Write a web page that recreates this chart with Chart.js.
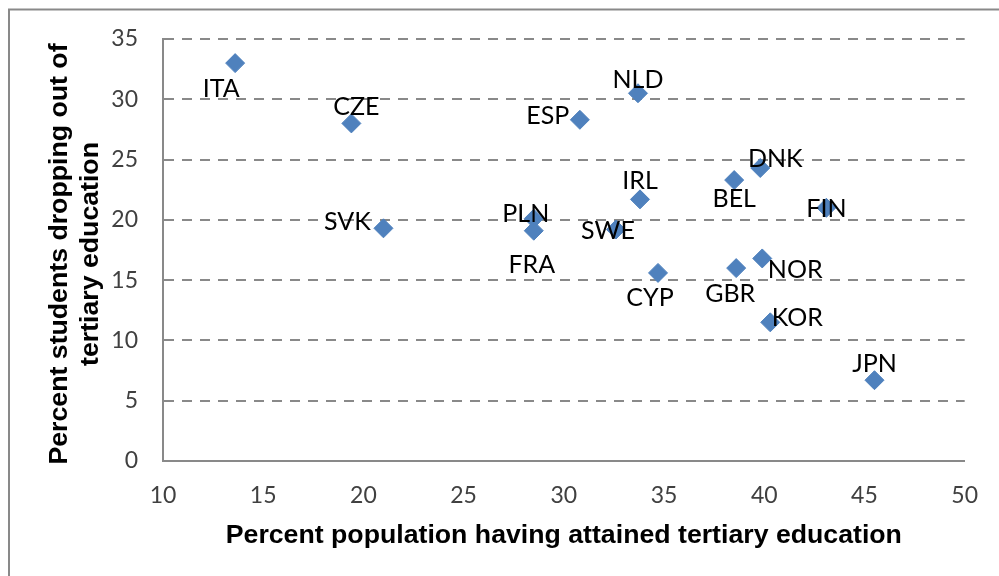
<!DOCTYPE html>
<html>
<head>
<meta charset="utf-8">
<title>Tertiary attainment and dropout</title>
<script src="https://cdn.jsdelivr.net/npm/chart.js@4.4.1/dist/chart.umd.min.js"></script>
<style>
  html, body { margin: 0; padding: 0; background: #fff; overflow: hidden; }
  #wrap { position: relative; width: 999px; height: 576px; }
</style>
</head>
<body>
<div id="wrap"><canvas id="scatter" width="999" height="576"></canvas></div>
<script>
var countries = ['ITA', 'CZE', 'SVK', 'PLN', 'FRA', 'ESP', 'SWE', 'NLD', 'IRL', 'CYP', 'BEL', 'GBR', 'DNK', 'NOR', 'KOR', 'FIN', 'JPN'];
var attained  = [13.6, 19.4, 21.0, 28.5, 28.5, 30.8, 32.6, 33.7, 33.8, 34.7, 38.5, 38.6, 39.8, 39.9, 40.3, 43.1, 45.5];
var dropout   = [33.0, 28.0, 19.3, 20.1, 19.1, 28.3, 19.2, 30.5, 21.7, 15.6, 23.3, 16.0, 24.3, 16.8, 11.5, 21.0, 6.7];
var xTicks = [10, 15, 20, 25, 30, 35, 40, 45, 50];
var yTicks = [0, 5, 10, 15, 20, 25, 30, 35];
var xTitle = 'Percent population having attained tertiary education';
var yTitle = ['Percent students dropping out of', 'tertiary education'];

// where each country code sits relative to its marker, in px
var labelOffset = {
  ITA: [-14, 25], CZE: [5, -17], SVK: [-36, -7], PLN: [-8, -6], FRA: [-2, 33],
  ESP: [-32, -5], SWE: [-8, 0], NLD: [0, -14], IRL: [0, -19], CYP: [-8, 24],
  BEL: [0, 18], GBR: [-6, 25], DNK: [15, -10], NOR: [33, 11], KOR: [27, -5],
  FIN: [0, 0], JPN: [0, -17]
};

var points = countries.map(function (c, i) {
  return { x: attained[i], y: dropout[i] };
});

var lineGrey = '#898989';

var decorations = {
  id: 'decorations',
  beforeDraw: function (chart) {
    var ctx = chart.ctx;
    ctx.save();
    ctx.strokeStyle = lineGrey;
    ctx.lineWidth = 2;
    ctx.strokeRect(9, 9.5, 2000, 2000);
    ctx.restore();
  },
  afterDatasetsDraw: function (chart) {
    var ctx = chart.ctx;
    var meta = chart.getDatasetMeta(0);
    ctx.save();
    ctx.font = '25px Lato';
    ctx.fillStyle = '#000';
    ctx.textAlign = 'center';
    ctx.textBaseline = 'alphabetic';
    meta.data.forEach(function (pt, i) {
      var off = labelOffset[countries[i]] || [0, -18];
      ctx.fillText(countries[i], pt.x + off[0], pt.y + off[1] + 9);
    });
    ctx.restore();
  },
  afterDraw: function (chart) {
    var ctx = chart.ctx;
    var area = chart.chartArea;
    ctx.save();
    ctx.font = 'bold 26.7px "Liberation Sans"';
    ctx.fillStyle = '#000';
    ctx.textAlign = 'center';
    ctx.textBaseline = 'alphabetic';
    ctx.fillText(xTitle, (area.left + area.right) / 2, area.bottom + 82);
    var cy = (area.top + area.bottom) / 2 + 4;
    yTitle.forEach(function (line, i) {
      ctx.save();
      ctx.translate(area.left - 96 + i * 31, cy);
      ctx.rotate(-Math.PI / 2);
      ctx.fillText(line, 0, 0);
      ctx.restore();
    });
    ctx.restore();
  }
};

Chart.defaults.font.family = 'Lato';

new Chart(document.getElementById('scatter'), {
  type: 'scatter',
  data: {
    datasets: [{
      label: 'Dropout',
      data: points,
      pointStyle: 'rectRot',
      pointRadius: 9.5,
      pointHoverRadius: 9.5,
      backgroundColor: '#4F81BD',
      borderColor: '#4F81BD',
      borderWidth: 1
    }]
  },
  options: {
    responsive: false,
    animation: false,
    devicePixelRatio: 1,
    layout: { padding: { left: 0, top: 39, right: 25, bottom: 0 } },
    plugins: {
      legend: { display: false },
      tooltip: { enabled: false }
    },
    scales: {
      x: {
        type: 'linear',
        min: xTicks[0],
        max: xTicks[xTicks.length - 1],
        afterBuildTicks: function (s) { s.ticks = xTicks.map(function (v) { return { value: v }; }); },
        afterFit: function (s) { s.height = 115; },
        grid: { display: false, drawTicks: false },
        border: { color: lineGrey, width: 2 },
        ticks: { padding: 21, color: '#404040', font: { size: 23 } }
      },
      y: {
        type: 'linear',
        min: yTicks[0],
        max: yTicks[yTicks.length - 1],
        afterBuildTicks: function (s) { s.ticks = yTicks.map(function (v) { return { value: v }; }); },
        afterFit: function (s) { s.width = 163; },
        grid: {
          drawTicks: false,
          lineWidth: 2,
          color: function (c) { return c.tick && c.tick.value === 0 ? 'rgba(0,0,0,0)' : lineGrey; }
        },
        border: { color: lineGrey, width: 2, dash: [10, 8] },
        ticks: { padding: 25, color: '#404040', font: { size: 23 } }
      }
    }
  },
  plugins: [decorations]
});
</script>
</body>
</html>
